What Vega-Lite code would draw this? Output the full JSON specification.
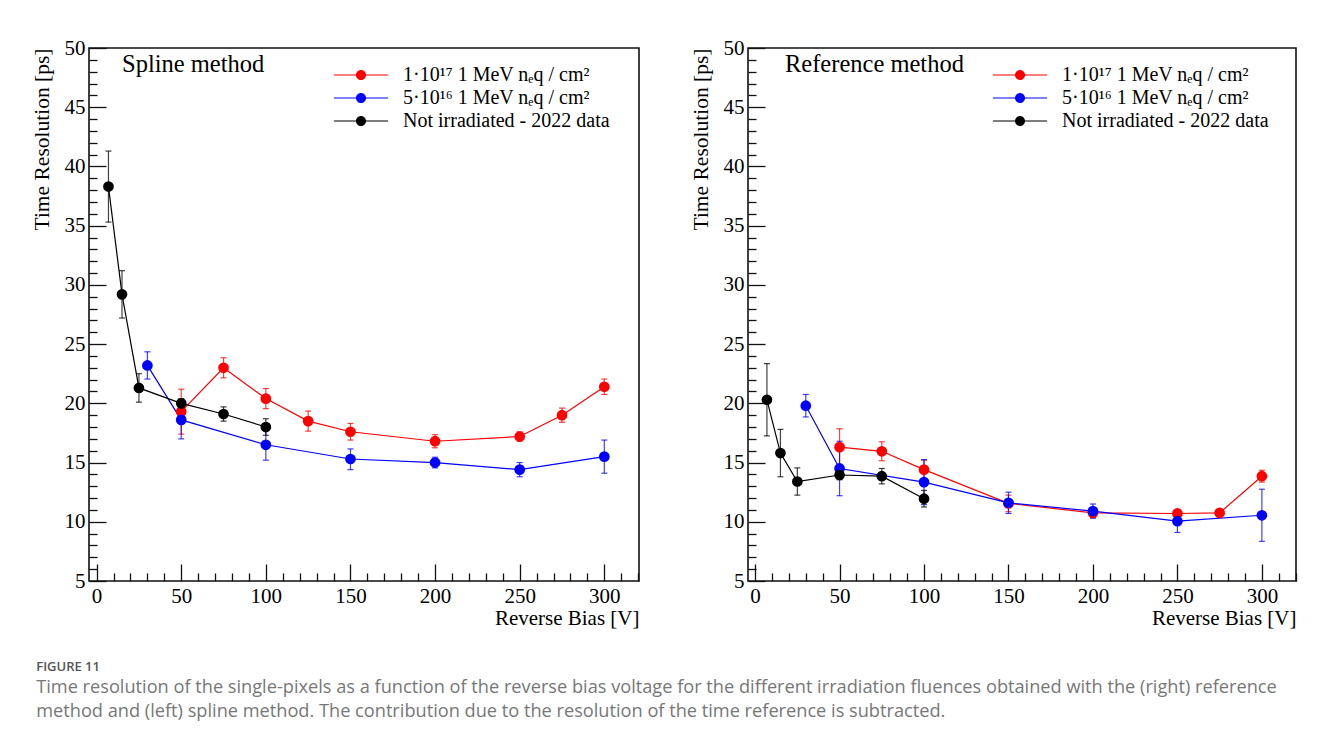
{
  "$schema": "https://vega.github.io/schema/vega-lite/v6.json",
  "background": "white",
  "padding": {"left": 30, "top": 36, "right": 10, "bottom": 10},
  "config": {
    "view": {"stroke": "#111", "strokeWidth": 1.6},
    "font": "Liberation Serif",
    "axis": {"labelOverlap": false, "labelBound": false, "labelFlush": false},
    "legend": {
      "orient": "none",
      "legendX": 262,
      "legendY": 17,
      "padding": 0,
      "symbolType": "M-3.5,-0.08L3.5,-0.08L3.5,0.08L-3.5,0.08Z M0.65,0A0.65,0.65 0 1 1 -0.65,0A0.65,0.65 0 1 1 0.65,0Z",
      "symbolSize": 240,
      "symbolStrokeWidth": 0,
      "symbolOpacity": 1,
      "labelFont": "Liberation Serif",
      "labelFontSize": 20,
      "labelColor": "black",
      "labelOffset": 32,
      "rowPadding": 3,
      "labelLimit": 400
    }
  },
  "datasets": {
    "d": [
      {"panel": "S", "s": "1·10¹⁷ 1 MeV nₑq / cm²", "x": 50, "y": 19.3, "lo": 17.4, "hi": 21.2},
      {"panel": "S", "s": "1·10¹⁷ 1 MeV nₑq / cm²", "x": 75, "y": 23.0, "lo": 22.15, "hi": 23.85},
      {"panel": "S", "s": "1·10¹⁷ 1 MeV nₑq / cm²", "x": 100, "y": 20.4, "lo": 19.55, "hi": 21.25},
      {"panel": "S", "s": "1·10¹⁷ 1 MeV nₑq / cm²", "x": 125, "y": 18.5, "lo": 17.65, "hi": 19.35},
      {"panel": "S", "s": "1·10¹⁷ 1 MeV nₑq / cm²", "x": 150, "y": 17.6, "lo": 16.9, "hi": 18.3},
      {"panel": "S", "s": "1·10¹⁷ 1 MeV nₑq / cm²", "x": 200, "y": 16.8, "lo": 16.25, "hi": 17.35},
      {"panel": "S", "s": "1·10¹⁷ 1 MeV nₑq / cm²", "x": 250, "y": 17.2, "lo": 16.8, "hi": 17.6},
      {"panel": "S", "s": "1·10¹⁷ 1 MeV nₑq / cm²", "x": 275, "y": 19.0, "lo": 18.4, "hi": 19.6},
      {"panel": "S", "s": "1·10¹⁷ 1 MeV nₑq / cm²", "x": 300, "y": 21.4, "lo": 20.75, "hi": 22.05},
      {"panel": "S", "s": "5·10¹⁶ 1 MeV nₑq / cm²", "x": 30, "y": 23.2, "lo": 22.05, "hi": 24.35},
      {"panel": "S", "s": "5·10¹⁶ 1 MeV nₑq / cm²", "x": 50, "y": 18.6, "lo": 17.0, "hi": 20.2},
      {"panel": "S", "s": "5·10¹⁶ 1 MeV nₑq / cm²", "x": 100, "y": 16.5, "lo": 15.2, "hi": 17.8},
      {"panel": "S", "s": "5·10¹⁶ 1 MeV nₑq / cm²", "x": 150, "y": 15.3, "lo": 14.4, "hi": 16.15},
      {"panel": "S", "s": "5·10¹⁶ 1 MeV nₑq / cm²", "x": 200, "y": 15.0, "lo": 14.55, "hi": 15.45},
      {"panel": "S", "s": "5·10¹⁶ 1 MeV nₑq / cm²", "x": 250, "y": 14.4, "lo": 13.8, "hi": 15.0},
      {"panel": "S", "s": "5·10¹⁶ 1 MeV nₑq / cm²", "x": 300, "y": 15.5, "lo": 14.1, "hi": 16.9},
      {"panel": "S", "s": "Not irradiated - 2022 data", "x": 7, "y": 38.3, "lo": 35.3, "hi": 41.3},
      {"panel": "S", "s": "Not irradiated - 2022 data", "x": 15, "y": 29.2, "lo": 27.2, "hi": 31.2},
      {"panel": "S", "s": "Not irradiated - 2022 data", "x": 25, "y": 21.3, "lo": 20.1, "hi": 22.5},
      {"panel": "S", "s": "Not irradiated - 2022 data", "x": 50, "y": 20.0, "lo": 19.6, "hi": 20.4},
      {"panel": "S", "s": "Not irradiated - 2022 data", "x": 75, "y": 19.1, "lo": 18.5, "hi": 19.7},
      {"panel": "S", "s": "Not irradiated - 2022 data", "x": 100, "y": 18.0, "lo": 17.3, "hi": 18.7},
      {"panel": "R", "s": "1·10¹⁷ 1 MeV nₑq / cm²", "x": 50, "y": 16.3, "lo": 14.75, "hi": 17.85},
      {"panel": "R", "s": "1·10¹⁷ 1 MeV nₑq / cm²", "x": 75, "y": 15.95, "lo": 15.15, "hi": 16.75},
      {"panel": "R", "s": "1·10¹⁷ 1 MeV nₑq / cm²", "x": 100, "y": 14.4, "lo": 13.6, "hi": 15.2},
      {"panel": "R", "s": "1·10¹⁷ 1 MeV nₑq / cm²", "x": 150, "y": 11.55, "lo": 10.85, "hi": 12.25},
      {"panel": "R", "s": "1·10¹⁷ 1 MeV nₑq / cm²", "x": 200, "y": 10.75, "lo": 10.35, "hi": 11.15},
      {"panel": "R", "s": "1·10¹⁷ 1 MeV nₑq / cm²", "x": 250, "y": 10.7, "lo": 10.4, "hi": 11.0},
      {"panel": "R", "s": "1·10¹⁷ 1 MeV nₑq / cm²", "x": 275, "y": 10.75, "lo": 10.55, "hi": 10.95},
      {"panel": "R", "s": "1·10¹⁷ 1 MeV nₑq / cm²", "x": 300, "y": 13.85, "lo": 13.35, "hi": 14.35},
      {"panel": "R", "s": "5·10¹⁶ 1 MeV nₑq / cm²", "x": 30, "y": 19.8, "lo": 18.85, "hi": 20.75},
      {"panel": "R", "s": "5·10¹⁶ 1 MeV nₑq / cm²", "x": 50, "y": 14.5, "lo": 12.2, "hi": 16.8},
      {"panel": "R", "s": "5·10¹⁶ 1 MeV nₑq / cm²", "x": 100, "y": 13.35, "lo": 11.45, "hi": 15.25},
      {"panel": "R", "s": "5·10¹⁶ 1 MeV nₑq / cm²", "x": 150, "y": 11.6, "lo": 10.7, "hi": 12.5},
      {"panel": "R", "s": "5·10¹⁶ 1 MeV nₑq / cm²", "x": 200, "y": 10.9, "lo": 10.3, "hi": 11.5},
      {"panel": "R", "s": "5·10¹⁶ 1 MeV nₑq / cm²", "x": 250, "y": 10.05, "lo": 9.1, "hi": 11.0},
      {"panel": "R", "s": "5·10¹⁶ 1 MeV nₑq / cm²", "x": 300, "y": 10.55, "lo": 8.35, "hi": 12.75},
      {"panel": "R", "s": "Not irradiated - 2022 data", "x": 7, "y": 20.3, "lo": 17.25, "hi": 23.35},
      {"panel": "R", "s": "Not irradiated - 2022 data", "x": 15, "y": 15.8, "lo": 13.8, "hi": 17.8},
      {"panel": "R", "s": "Not irradiated - 2022 data", "x": 25, "y": 13.4, "lo": 12.25, "hi": 14.55},
      {"panel": "R", "s": "Not irradiated - 2022 data", "x": 50, "y": 13.95, "lo": 13.55, "hi": 14.35},
      {"panel": "R", "s": "Not irradiated - 2022 data", "x": 75, "y": 13.85, "lo": 13.2, "hi": 14.5},
      {"panel": "R", "s": "Not irradiated - 2022 data", "x": 100, "y": 11.95, "lo": 11.25, "hi": 12.65}
    ]
  },
  "title": {
    "text": "FIGURE 11",
    "subtitle": [
      "Time resolution of the single-pixels as a function of the reverse bias voltage for the different irradiation fluences obtained with the (right) reference",
      "method and (left) spline method. The contribution due to the resolution of the time reference is subtracted."
    ],
    "orient": "bottom",
    "anchor": "start",
    "frame": "bounds",
    "dx": 6,
    "offset": 32,
    "font": "Open Sans",
    "fontSize": 13,
    "fontWeight": 600,
    "color": "#555",
    "subtitleFont": "Open Sans",
    "subtitleFontSize": 18.2,
    "subtitleColor": "#777",
    "subtitlePadding": 5,
    "subtitleLineHeight": 24
  },
  "spacing": 49,
  "resolve": {"scale": {"color": "independent"}, "legend": {"color": "independent"}},
  "hconcat": [
    {
      "width": 550,
      "height": 533,
      "title": {"text": "Spline method", "anchor": "start", "frame": "group", "offset": -40, "dx": 33, "fontSize": 24.5, "fontWeight": "normal", "font": "Liberation Serif", "color": "black"},
      "data": {"name": "d"},
      "transform": [{"filter": "datum.panel === 'S'"}],
      "encoding": {
        "x": {"field": "x", "type": "quantitative", "scale": {"domain": [-4.5, 320.5], "nice": false, "zero": false},
          "axis": {"values": [0,10,20,30,40,50,60,70,80,90,100,110,120,130,140,150,160,170,180,190,200,210,220,230,240,250,260,270,280,290,300,310,320],
            "tickCount": 100, "format": "d",
            "labelExpr": "datum.value % 50 === 0 ? datum.label : ''",
            "tickSize": {"condition": {"test": "datum.value % 50 === 0", "value": -17}, "value": -8},
            "tickColor": "#111", "tickWidth": 1.3, "domain": false, "grid": false, "labelOverlap": false, "labelBound": false, "labelFlush": false,
            "labelFont": "Liberation Serif", "labelFontSize": 21, "labelColor": "black", "labelPadding": 21,
            "title": "Reverse Bias [V]", "titleAnchor": "end", "titleFont": "Liberation Serif", "titleFontSize": 21, "titleFontWeight": "normal", "titleColor": "black", "titlePadding": -8}},
        "color": {"field": "s", "type": "nominal",
          "scale": {"domain": ["1·10¹⁷ 1 MeV nₑq / cm²", "5·10¹⁶ 1 MeV nₑq / cm²", "Not irradiated - 2022 data"], "range": ["#ff0000", "#0000ff", "#000000"]},
          "legend": {"title": null}}
      },
      "layer": [
        {"mark": {"type": "errorbar", "ticks": {"size": 6}, "thickness": 1.2, "opacity": 0.75},
          "encoding": {
            "y": {"field": "lo", "type": "quantitative", "scale": {"domain": [5, 50], "nice": false, "zero": false},
              "axis": {"values": [5,6,7,8,9,10,11,12,13,14,15,16,17,18,19,20,21,22,23,24,25,26,27,28,29,30,31,32,33,34,35,36,37,38,39,40,41,42,43,44,45,46,47,48,49,50],
                "tickCount": 100, "format": "d",
                "labelExpr": "datum.value % 5 === 0 ? datum.label : ''",
                "tickSize": {"condition": {"test": "datum.value % 5 === 0", "value": -17}, "value": -8},
                "tickColor": "#111", "tickWidth": 1.3, "domain": false, "grid": false, "labelOverlap": false, "labelBound": false, "labelFlush": false,
                "labelFont": "Liberation Serif", "labelFontSize": 21, "labelColor": "black", "labelPadding": 21,
                "title": "Time Resolution [ps]", "titleAnchor": "end", "titleFont": "Liberation Serif", "titleFontSize": 21.5, "titleFontWeight": "normal", "titleColor": "black", "titlePadding": 11}},
            "y2": {"field": "hi"}
          }},
        {"mark": {"type": "line", "strokeWidth": 1.2},
          "encoding": {"y": {"field": "y", "type": "quantitative", "title": "Time Resolution [ps]"}}},
        {"mark": {"type": "circle", "size": 115, "opacity": 1},
          "encoding": {"y": {"field": "y", "type": "quantitative", "title": "Time Resolution [ps]"}}}
      ]
    },
    {
      "width": 548,
      "height": 533,
      "title": {"text": "Reference method", "anchor": "start", "frame": "group", "offset": -40, "dx": 37, "fontSize": 24.5, "fontWeight": "normal", "font": "Liberation Serif", "color": "black"},
      "data": {"name": "d"},
      "transform": [{"filter": "datum.panel === 'R'"}],
      "encoding": {
        "x": {"field": "x", "type": "quantitative", "scale": {"domain": [-4.2, 320.2], "nice": false, "zero": false},
          "axis": {"values": [0,10,20,30,40,50,60,70,80,90,100,110,120,130,140,150,160,170,180,190,200,210,220,230,240,250,260,270,280,290,300,310,320],
            "tickCount": 100, "format": "d",
            "labelExpr": "datum.value % 50 === 0 ? datum.label : ''",
            "tickSize": {"condition": {"test": "datum.value % 50 === 0", "value": -17}, "value": -8},
            "tickColor": "#111", "tickWidth": 1.3, "domain": false, "grid": false, "labelOverlap": false, "labelBound": false, "labelFlush": false,
            "labelFont": "Liberation Serif", "labelFontSize": 21, "labelColor": "black", "labelPadding": 21,
            "title": "Reverse Bias [V]", "titleAnchor": "end", "titleFont": "Liberation Serif", "titleFontSize": 21, "titleFontWeight": "normal", "titleColor": "black", "titlePadding": -8}},
        "color": {"field": "s", "type": "nominal",
          "scale": {"domain": ["1·10¹⁷ 1 MeV nₑq / cm²", "5·10¹⁶ 1 MeV nₑq / cm²", "Not irradiated - 2022 data"], "range": ["#ff0000", "#0000ff", "#000000"]},
          "legend": {"title": null}}
      },
      "layer": [
        {"mark": {"type": "errorbar", "ticks": {"size": 6}, "thickness": 1.2, "opacity": 0.75},
          "encoding": {
            "y": {"field": "lo", "type": "quantitative", "scale": {"domain": [5, 50], "nice": false, "zero": false},
              "axis": {"values": [5,6,7,8,9,10,11,12,13,14,15,16,17,18,19,20,21,22,23,24,25,26,27,28,29,30,31,32,33,34,35,36,37,38,39,40,41,42,43,44,45,46,47,48,49,50],
                "tickCount": 100, "format": "d",
                "labelExpr": "datum.value % 5 === 0 ? datum.label : ''",
                "tickSize": {"condition": {"test": "datum.value % 5 === 0", "value": -17}, "value": -8},
                "tickColor": "#111", "tickWidth": 1.3, "domain": false, "grid": false, "labelOverlap": false, "labelBound": false, "labelFlush": false,
                "labelFont": "Liberation Serif", "labelFontSize": 21, "labelColor": "black", "labelPadding": 21,
                "title": "Time Resolution [ps]", "titleAnchor": "end", "titleFont": "Liberation Serif", "titleFontSize": 21.5, "titleFontWeight": "normal", "titleColor": "black", "titlePadding": 11}},
            "y2": {"field": "hi"}
          }},
        {"mark": {"type": "line", "strokeWidth": 1.2},
          "encoding": {"y": {"field": "y", "type": "quantitative", "title": "Time Resolution [ps]"}}},
        {"mark": {"type": "circle", "size": 115, "opacity": 1},
          "encoding": {"y": {"field": "y", "type": "quantitative", "title": "Time Resolution [ps]"}}}
      ]
    }
  ]
}
